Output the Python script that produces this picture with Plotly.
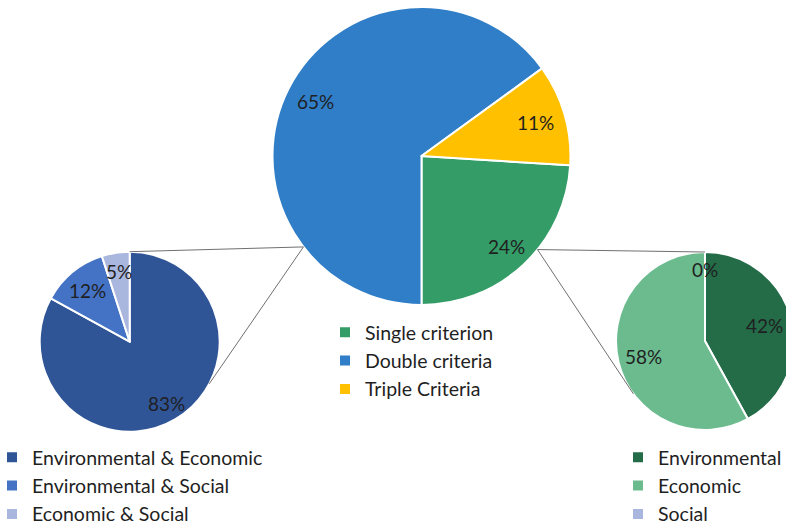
import math
import plotly.graph_objects as go

# ---------------- data ----------------
criteria_labels = ["Single criterion", "Double criteria", "Triple Criteria"]
criteria_share = [24, 65, 11]

double_labels = ["Environmental & Economic", "Environmental & Social", "Economic & Social"]
double_share = [83, 12, 5]

single_labels = ["Environmental", "Economic", "Social"]
single_share = [42, 58, 0]

# ---------------- style ----------------
W, H = 800, 527
FONT = "Lato"
TEXT = "#1f1f1f"
LINE = "#707070"

criteria_colors = ["#349C67", "#2F7EC7", "#FFC000"]
double_colors = ["#2F5597", "#4472C4", "#A9B7DE"]
single_colors = ["#246B48", "#6BBB8F", "#A9B7DE"]

# pie geometry in pixels: centre x, centre y (from top), radius
MAIN = (421.5, 156.0, 149.0)
LEFT = (129.7, 341.7, 90.0)
RIGHT = (705.0, 341.0, 89.0)

# distance of each percentage label from the centre, as a fraction of the radius
MAIN_LABEL_R = [0.83, 0.80, 0.80]
LEFT_LABEL_R = [0.80, 0.74, 0.79]
RIGHT_LABEL_R = [0.69, 0.71, 0.80]

# first slice of the main pie ends at 6 o'clock
main_rotation = 180 - 360 * criteria_share[0] / sum(criteria_share)


def domain(geom):
    cx, cy, r = geom
    return dict(x=[(cx - r) / W, (cx + r) / W], y=[1 - (cy + r) / H, 1 - (cy - r) / H])


def px_to_paper(x, y):
    return x / W, 1 - y / H


def rim_point(geom, angle_deg, frac=1.0):
    cx, cy, r = geom
    a = math.radians(angle_deg)
    return cx + frac * r * math.sin(a), cy - frac * r * math.cos(a)


def pie(labels, values, colors, geom, rotation, legend):
    return go.Pie(
        labels=labels,
        values=values,
        marker=dict(colors=colors, line=dict(color="white", width=2)),
        domain=domain(geom),
        sort=False,
        direction="clockwise",
        rotation=rotation,
        textinfo="none",
        hoverinfo="label+percent",
        legend=legend,
    )


fig = go.Figure()
fig.add_trace(pie(criteria_labels, criteria_share, criteria_colors, MAIN, main_rotation, "legend"))
fig.add_trace(pie(double_labels, double_share, double_colors, LEFT, 0, "legend2"))
fig.add_trace(pie(single_labels, single_share, single_colors, RIGHT, 0, "legend3"))

# percentage labels placed along each slice's bisector
annotations = []


def add_labels(values, geom, rotation, fracs):
    total = sum(values)
    cum = 0
    for v, frac in zip(values, fracs):
        mid = rotation + 360 * (cum + v / 2) / total
        x, y = rim_point(geom, mid, frac)
        px, py = px_to_paper(x, y)
        annotations.append(dict(
            x=px, y=py, xref="paper", yref="paper", text=f"{v}%", showarrow=False,
            font=dict(family=FONT, size=19, color=TEXT), xanchor="center", yanchor="middle",
        ))
        cum += v


add_labels(criteria_share, MAIN, main_rotation, MAIN_LABEL_R)
add_labels(double_share, LEFT, 0, LEFT_LABEL_R)
add_labels(single_share, RIGHT, 0, RIGHT_LABEL_R)

# connector lines from the main pie to the two breakdown pies
connectors = [
    (MAIN, 232.4, LEFT, 0.0),
    (MAIN, 232.4, LEFT, 117.9),
    (MAIN, 128.9, RIGHT, 0.0),
    (MAIN, 128.9, RIGHT, 233.6),
]
shapes = []
for g0, a0, g1, a1 in connectors:
    x0, y0 = px_to_paper(*rim_point(g0, a0))
    x1, y1 = px_to_paper(*rim_point(g1, a1))
    shapes.append(dict(type="line", xref="paper", yref="paper", x0=x0, y0=y0, x1=x1, y1=y1,
                       line=dict(color=LINE, width=1)))

legend_font = dict(family=FONT, size=19.5, color=TEXT)
legend_common = dict(font=legend_font, bgcolor="rgba(0,0,0,0)", borderwidth=0,
                     xanchor="left", yanchor="top", traceorder="normal")

fig.update_layout(
    width=W,
    height=H,
    margin=dict(l=0, r=0, t=0, b=0, autoexpand=False),
    paper_bgcolor="white",
    plot_bgcolor="white",
    showlegend=True,
    annotations=annotations,
    shapes=shapes,
    legend=dict(x=(365 - 40) / W, y=1 - 313 / H, **legend_common),
    legend2=dict(x=(32 - 40) / W, y=1 - 438 / H, **legend_common),
    legend3=dict(x=(658 - 40) / W, y=1 - 438 / H, **legend_common),
)

fig.write_html(
    "out.html",
    post_script="document.documentElement.style.overflow='hidden';document.body.style.overflow='hidden';",
)
